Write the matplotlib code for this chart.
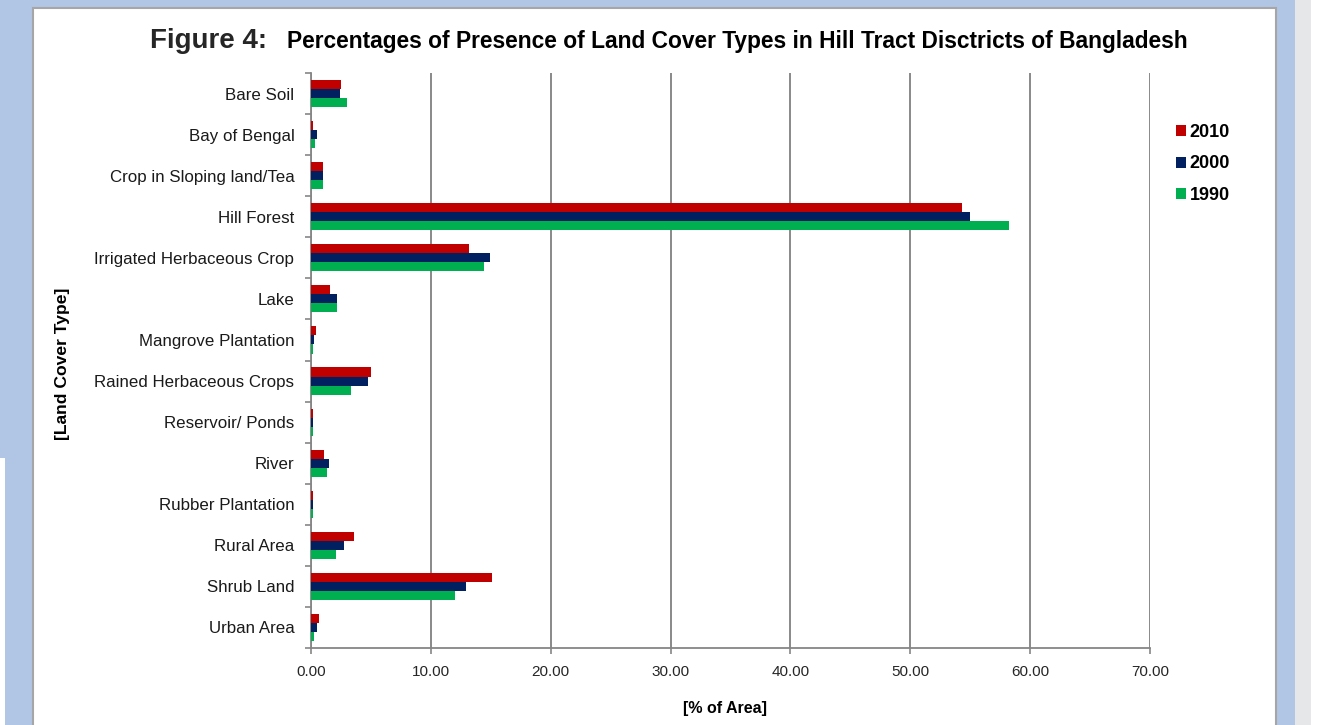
import matplotlib
matplotlib.use('Agg')
import matplotlib.pyplot as plt
from matplotlib.patches import Rectangle

plt.rcParams['font.family'] = ['Liberation Sans', 'DejaVu Sans']

# Land cover categories, top to bottom
categories = ['Bare Soil', 'Bay of Bengal', 'Crop in Sloping land/Tea', 'Hill Forest',
              'Irrigated Herbaceous Crop', 'Lake', 'Mangrove Plantation',
              'Rained Herbaceous Crops', 'Reservoir/ Ponds', 'River',
              'Rubber Plantation', 'Rural Area', 'Shrub Land', 'Urban Area']

# Percent of area per year
pct_2010 = [2.53, 0.18, 0.97, 54.3, 13.2, 1.6, 0.39, 5.0, 0.18, 1.11, 0.18, 3.6, 15.1, 0.64]
pct_2000 = [2.42, 0.53, 0.97, 55.0, 14.9, 2.2, 0.28, 4.78, 0.18, 1.47, 0.18, 2.78, 12.96, 0.53]
pct_1990 = [3.0, 0.36, 0.97, 58.2, 14.4, 2.2, 0.18, 3.37, 0.18, 1.33, 0.18, 2.06, 12.0, 0.28]

years = ['2010', '2000', '1990']
colors = ['#c00000', '#002060', '#00b050']
x_ticks = [0, 10, 20, 30, 40, 50, 60, 70]

W, H = 1320, 725
fig = plt.figure(figsize=(W / 100, H / 100), dpi=100)
fig.patch.set_facecolor('white')


def px_rect(x0, y0, x1, y1, **kw):
    # rectangle given in pixel coords (top-left origin)
    r = Rectangle((x0 / W, 1 - y1 / H), (x1 - x0) / W, (y1 - y0) / H,
                  transform=fig.transFigure, zorder=-5, **kw)
    fig.patches.append(r)


# Page background
px_rect(0, 0, 1295, H, facecolor='#b1c5e5', edgecolor='none')
px_rect(0, 458, 5, H, facecolor='white', edgecolor='none')
px_rect(1295, 0, 1311, H, facecolor='#e6e7e8', edgecolor='none')
px_rect(33, 8, 1276, H + 5, facecolor='white', edgecolor='#a6a6a6', linewidth=1.5)

ax = fig.add_axes([311 / W, 1 - 648 / H, (1150 - 311) / W, (648 - 73) / H])
ax.set_facecolor('none')
ax.set_zorder(2)

h = 0.22
pos = list(range(len(categories)))
series = [pct_2010, pct_2000, pct_1990]
bars = []
for k, (vals, c, yr) in enumerate(zip(series, colors, years)):
    b = ax.barh([p + (k - 1) * h for p in pos], vals, height=h, color=c, label=yr, zorder=3)
    bars.append(b)

ax.set_xlim(0, 70)
ax.set_ylim(len(categories) - 0.5, -0.5)
ax.set_xticks(x_ticks)
ax.set_xticklabels(['%.2f' % v for v in x_ticks], fontsize=11, color='#262626')
ax.set_yticks(pos)
ax.set_yticklabels(categories, fontsize=12.2, color='#1a1a1a')
ax.set_yticks([p - 0.5 for p in range(len(categories) + 1)], minor=True)
ax.tick_params(axis='y', which='major', length=0, pad=12)
ax.tick_params(axis='y', which='minor', length=4, width=1.2, color='#868686')
ax.tick_params(axis='x', which='major', length=4, width=1.2, color='#868686', pad=8)

ax.grid(axis='x', color='#808080', linewidth=1.3, zorder=0)
for s in ['top', 'right']:
    ax.spines[s].set_visible(False)
for s in ['left', 'bottom']:
    ax.spines[s].set_color('#868686')
    ax.spines[s].set_linewidth(1.3)

# Legend
fig.legend(handles=bars, labels=years, loc='center left',
           bbox_to_anchor=(1176 / W, 1 - 164 / H), frameon=False,
           prop={'size': 13, 'weight': 'bold'}, handlelength=0.55, handleheight=0.55,
           handletextpad=0.2, labelspacing=0.82, borderpad=0, borderaxespad=0)

# Titles and axis labels
fig.text(150 / W, 1 - 48 / H, 'Figure 4:', fontsize=20, fontweight='bold',
         color='#262626', va='baseline', ha='left')
fig.text(287 / W, 1 - 48 / H,
         'Percentages of Presence of Land Cover Types in Hill Tract Disctricts of Bangladesh',
         fontsize=16.4, fontweight='bold', color='black', va='baseline', ha='left')
fig.text(63 / W, 1 - 364 / H, '[Land Cover Type]', rotation=90, fontsize=12.6,
         fontweight='bold', va='center', ha='center')
fig.text(725 / W, 1 - 708 / H, '[% of Area]', fontsize=11.5, fontweight='bold',
         va='center', ha='center')

fig.savefig('out.png', dpi=100)
